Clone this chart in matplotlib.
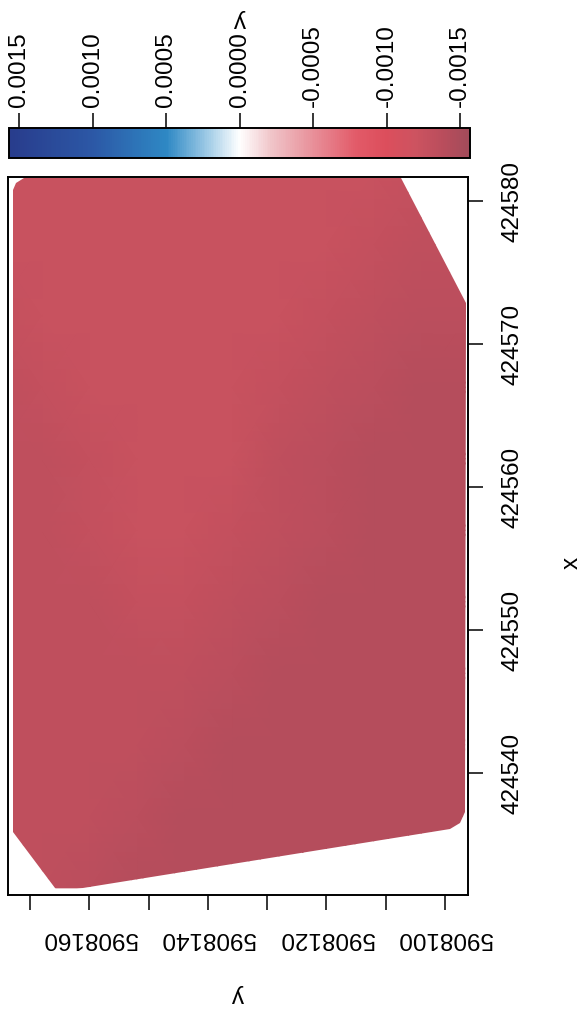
import numpy as np
import matplotlib
matplotlib.use("Agg")
import matplotlib.pyplot as plt
from matplotlib.colors import LinearSegmentedColormap, Normalize
from matplotlib.patches import Polygon
from matplotlib.cm import ScalarMappable

plt.rcParams["font.family"] = ["Liberation Sans", "DejaVu Sans"]

# Prediction grid: easting (x) rows, northing (y) columns
grid_x = [424532, 424537, 424542, 424547, 424552, 424557,
          424562, 424567, 424572, 424577, 424582]
grid_y = [5908096, 5908104, 5908112, 5908120, 5908128, 5908136,
          5908144, 5908152, 5908160, 5908168, 5908176]

# Predicted values (x 1e-3), one row per easting, columns by northing
z_rows = [
    [-1.41, -1.41, -1.41, -1.41, -1.41, -1.41, -1.41, -1.41, -1.37, -1.33, -1.33],
    [-1.41, -1.41, -1.41, -1.41, -1.41, -1.41, -1.41, -1.37, -1.33, -1.33, -1.33],
    [-1.41, -1.41, -1.41, -1.41, -1.41, -1.41, -1.37, -1.33, -1.33, -1.33, -1.33],
    [-1.41, -1.41, -1.41, -1.41, -1.41, -1.37, -1.33, -1.33, -1.33, -1.33, -1.33],
    [-1.41, -1.41, -1.41, -1.41, -1.37, -1.33, -1.28, -1.28, -1.33, -1.33, -1.33],
    [-1.41, -1.41, -1.41, -1.37, -1.33, -1.28, -1.24, -1.24, -1.28, -1.33, -1.33],
    [-1.41, -1.41, -1.41, -1.37, -1.33, -1.24, -1.24, -1.24, -1.28, -1.33, -1.33],
    [-1.41, -1.41, -1.37, -1.33, -1.28, -1.24, -1.24, -1.24, -1.24, -1.28, -1.33],
    [-1.37, -1.37, -1.33, -1.28, -1.24, -1.24, -1.24, -1.24, -1.24, -1.24, -1.28],
    [-1.33, -1.33, -1.28, -1.24, -1.24, -1.24, -1.24, -1.24, -1.24, -1.24, -1.24],
    [-1.33, -1.28, -1.24, -1.24, -1.24, -1.24, -1.24, -1.24, -1.24, -1.24, -1.24],
]
z_scale = 1e-3

# Outline of the surveyed area (easting, northing)
hull_x = [424580.8, 424581.3, 424581.6, 424581.6, 424572.9, 424537.3,
          424536.5, 424536.1, 424531.7, 424535.9]
hull_y = [5908172.9, 5908172.4, 5908171.1, 5908107.4, 5908096.5, 5908096.6,
          5908097.5, 5908099.2, 5908165.3, 5908172.9]

# Axis ticks
x_ticks = [424540, 424550, 424560, 424570, 424580]
x_tick_labels = ["424540", "424550", "424560", "424570", "424580"]
y_ticks = [5908100, 5908110, 5908120, 5908130, 5908140, 5908150, 5908160, 5908170]
y_tick_labels = ["5908100", "", "5908120", "", "5908140", "", "5908160", ""]
cb_ticks = [0.0015, 0.0010, 0.0005, 0.0, -0.0005, -0.0010, -0.0015]
cb_tick_labels = ["0.0015", "0.0010", "0.0005", "0.0000", "-0.0005", "-0.0010", "-0.0015"]
cb_limit = 0.001566

# Diverging blue-white-red palette
stops = [
    (-0.00157, "#a24b5a"), (-0.0014, "#b84d5c"), (-0.0012, "#cd5360"),
    (-0.0010, "#dc4e5c"), (-0.0008, "#e25a68"), (-0.0005, "#e8909a"),
    (-0.00022, "#f0c4c8"), (0.0, "#ffffff"), (0.00022, "#9fcbe6"),
    (0.0005, "#2e88c4"), (0.0010, "#2c58a6"), (0.00157, "#283c8c"),
]
lo, hi = stops[0][0], stops[-1][0]
cmap = LinearSegmentedColormap.from_list(
    "bwr_field", [((v - lo) / (hi - lo), c) for v, c in stops])
norm = Normalize(vmin=-cb_limit, vmax=cb_limit)

W, H = 584, 1014
fig = plt.figure(figsize=(W / 100, H / 100), dpi=100)

# Map panel: northing runs right-to-left, easting bottom-to-top
ax = fig.add_axes([7.5 / W, 1 - 895 / H, 460.5 / W, 718 / H])
Z = np.array(z_rows) * z_scale
YY, XX = np.meshgrid(grid_y, grid_x)
mesh = ax.pcolormesh(YY, XX, Z, cmap=cmap, norm=norm, shading="gouraud")
outline = Polygon(list(zip(hull_y, hull_x)), closed=True, transform=ax.transData)
mesh.set_clip_path(outline)

ax.set_xlim(5908173.84, 5908096.1)
ax.set_ylim(424531.5, 424581.7)
for s in ax.spines.values():
    s.set_linewidth(1.4)

ax.set_xticks(y_ticks)
ax.set_xticklabels(y_tick_labels)
ax.yaxis.tick_right()
ax.set_yticks(x_ticks)
ax.set_yticklabels(x_tick_labels)
ax.tick_params(axis="x", direction="out", length=11, width=1.1, pad=12,
               labelsize=17.5, labelrotation=180)
ax.tick_params(axis="y", direction="out", length=11, width=1.1, pad=13,
               labelsize=17.5, labelrotation=90)
for lab in ax.get_yticklabels():
    lab.set_verticalalignment("center")

fig.text(572 / W, 1 - 563 / H, "x", rotation=90, fontsize=17.5,
         ha="center", va="center")
fig.text(238 / W, 1 - 995 / H, "y", rotation=180, fontsize=17.5,
         ha="center", va="center")

# Colour key
cax = fig.add_axes([9.3 / W, 1 - 158 / H, 460.7 / W, 30 / H])
cb = fig.colorbar(ScalarMappable(norm=norm, cmap=cmap), cax=cax,
                  orientation="horizontal")
cax.invert_xaxis()
cax.xaxis.set_ticks_position("top")
cb.set_ticks(cb_ticks)
cb.set_ticklabels(cb_tick_labels)
cb.outline.set_linewidth(1.4)
cax.tick_params(axis="x", direction="out", length=11, width=1.1, pad=4,
                labelsize=17.5, labelrotation=90)
fig.text(240 / W, 1 - 20 / H, "y", rotation=180, fontsize=17.5,
         ha="center", va="center")

fig.savefig("out.png", dpi=100)
